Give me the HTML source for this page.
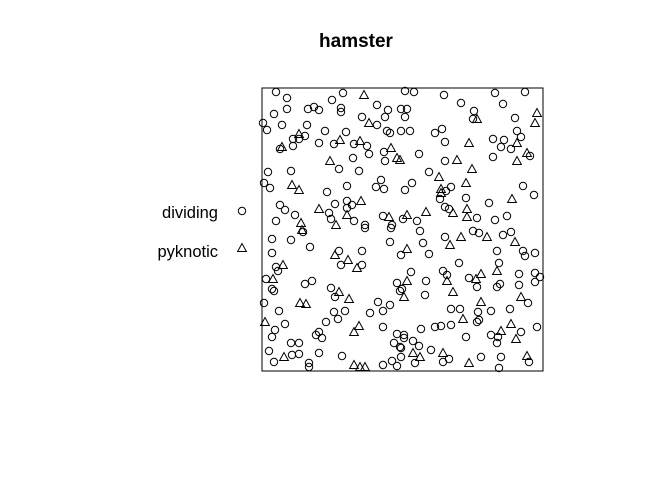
<!DOCTYPE html>
<html><head><meta charset="utf-8"><style>
body{margin:0;background:#fff;}
svg{display:block;font-family:"Liberation Sans",sans-serif;}
</style></head><body>
<svg id="chart" width="672" height="480" viewBox="0 0 672 480">
<rect width="672" height="480" fill="#fff"/>
<text x="356" y="47" font-size="19" font-weight="bold" text-anchor="middle">hamster</text>
<rect x="262" y="88" width="281" height="283" fill="none" stroke="#000" stroke-width="1"/>
<g>
<text x="218" y="218" font-size="16.5" text-anchor="end">dividing</text>
<circle cx="242" cy="211" r="3.7" fill="none" stroke="#000"/>
<text x="218" y="257" font-size="16.5" text-anchor="end">pyknotic</text>
<polygon points="242,243.5 237.6,251.5 246.4,251.5" fill="none" stroke="#000"/>
</g>
<g id="pts"></g>
</svg>
<script>
// Window in data units: x 0..281, y 0..283
const dividingX=[14,25,81,70,25,12,46,52,57,79,79,115,126,100,123,1,5,20,45,63,84,115,125,128,31,37,43,31,57,72,92,105,107,91,122,123,18,77,97,6,29,2,8,85,65,119,114,122,18,23,33,73,85,90,85,67,69,92,103,14,121,130,
143,152,182,233,263,199,241,139,145,143,212,211,253,139,148,173,180,255,259,231,242,239,249,183,157,183,231,268,167,150,143,189,184,178,204,261,272,227,183,187,141,155,215,233,245,
41,10,29,10,48,77,100,79,100,128,14,16,4,43,50,10,12,69,73,135,138,2,17,72,83,76,64,108,116,121,128,23,13,10,121,54,57,60,135,132,138,29,37,7,30,37,57,80,12,47,47,121,130,135,103,129,
158,183,211,217,241,249,161,167,235,261,263,273,197,237,139,149,164,181,185,207,215,235,238,257,257,273,273,278,140,163,266,189,198,216,229,248,217,215,159,173,179,189,204,229,236,235,259,275,142,142,151,157,169,139,139,153,181,187,219,239,267,237];
const dividingY=[279,273,278,271,262,257,262,264,261,263,259,266,261,254,254,248,241,246,246,240,239,246,240,238,232,232,235,225,228,227,227,225,217,213,219,210,222,202,200,199,200,188,183,185,179,191,184,182,166,161,156,167,170,166,163,158,152,150,146,150,155,146,
280,279,276,278,279,268,267,262,262,254,260,252,253,240,240,238,242,240,234,232,231,224,222,229,217,210,214,215,199,188,181,184,180,172,173,185,176,168,164,162,152,150,153,151,155,
139,132,131,118,124,120,120,106,106,129,104,100,92,87,90,82,80,83,74,88,80,68,60,59,60,52,49,58,69,60,66,47,41,34,44,36,39,33,37,28,24,28,28,20,16,17,18,15,9,8,4,6,10,5,143,143,
140,134,140,138,136,139,128,117,120,120,115,118,108,108,116,99,90,100,96,93,84,84,87,97,86,98,89,94,82,76,68,62,62,59,60,62,51,49,42,44,45,46,34,36,34,28,39,44,36,33,30,25,21,23,14,8,9,12,14,14,9,3];
const pyknoticX=[102,107,37,20,78,98,129,135,68,30,37,99,57,85,74,127,39,40,
275,273,215,207,255,265,255,195,210,177,204,179,179,250,205,205,191,164,145,138,
73,86,95,21,11,77,87,38,44,3,97,92,22,92,98,103,
199,225,188,253,145,235,219,214,185,191,145,142,259,219,201,249,239,254,151,158,181,207,265];
const pyknoticY=[276,248,237,224,231,230,223,213,210,186,181,170,162,156,146,154,148,141,
258,248,252,228,228,218,210,211,202,194,188,182,178,172,162,154,158,159,156,211,
116,111,103,106,92,79,72,68,67,49,45,39,14,6,4,4,
134,134,126,129,122,100,97,92,90,79,90,74,74,69,52,47,40,32,18,14,18,8,15];

const X0=262,Y0=371,SX=1,SY=1;
const px=v=>X0+v*SX, py=v=>Y0-v*SY;
const g=document.getElementById('pts');
const NS='http://www.w3.org/2000/svg';
for(let i=0;i<dividingX.length;i++){
  const c=document.createElementNS(NS,'circle');
  c.setAttribute('cx',px(dividingX[i]));c.setAttribute('cy',py(dividingY[i]));
  c.setAttribute('r',3.7);c.setAttribute('fill','none');c.setAttribute('stroke','#000');
  
  
  g.appendChild(c);
}
for(let i=0;i<pyknoticX.length;i++){
  const x=px(pyknoticX[i]),y=py(pyknoticY[i]);
  const t=document.createElementNS(NS,'polygon');
  t.setAttribute('points',`${x},${y-4.5} ${x-4.4},${y+3.5} ${x+4.4},${y+3.5}`);
  t.setAttribute('fill','none');t.setAttribute('stroke','#000');
  
  
  g.appendChild(t);
}
</script>
</body></html>
